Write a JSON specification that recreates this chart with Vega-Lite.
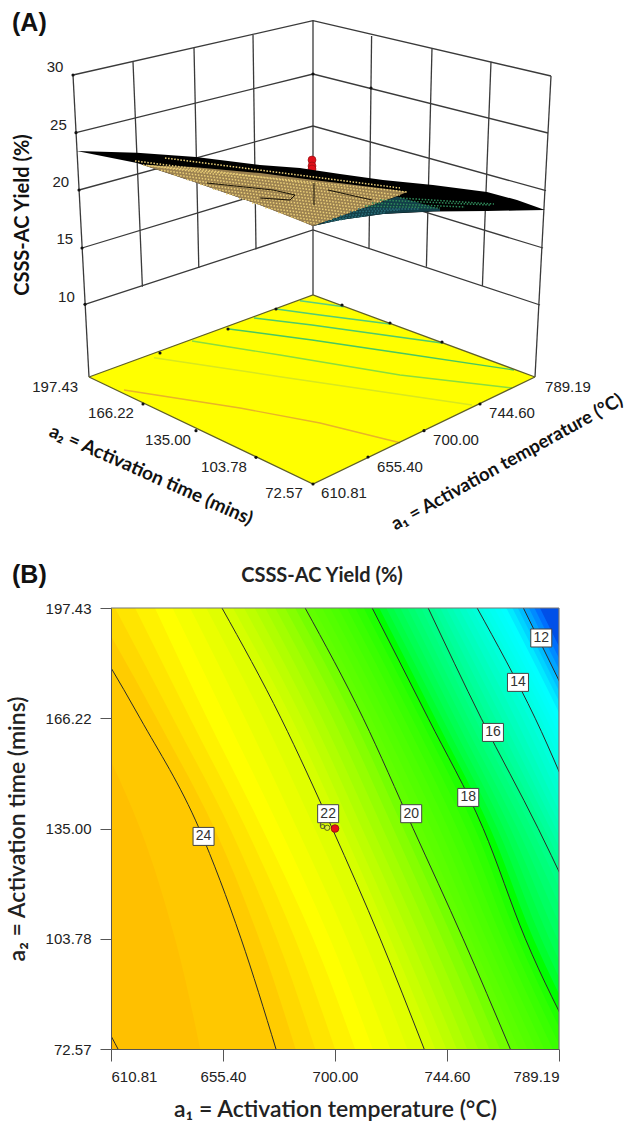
{"$schema":"https://vega.github.io/schema/vega-lite/v6.json","background":"white","padding":{"left":6,"top":0,"right":0,"bottom":0},"bounds":"flush","spacing":0,"config":{"view":{"stroke":null}},
"datasets":{
"walls":[
{"id":"l30","u":73,"v":75},{"id":"l30","u":313,"v":20.7},{"id":"l30","u":551,"v":76},
{"id":"l25","u":76,"v":132.7},{"id":"l25","u":313,"v":74},{"id":"l25","u":548,"v":133},
{"id":"l20","u":79,"v":190},{"id":"l20","u":313,"v":126},{"id":"l20","u":546,"v":190.7},
{"id":"l15","u":82,"v":248},{"id":"l15","u":313,"v":178},{"id":"l15","u":543,"v":248},
{"id":"l10","u":85,"v":304.3},{"id":"l10","u":313,"v":230},{"id":"l10","u":540,"v":305},
{"id":"vL","u":73,"v":75},{"id":"vL","u":89,"v":377},
{"id":"vB","u":313,"v":20.7},{"id":"vB","u":313,"v":295},
{"id":"vR","u":535,"v":377},{"id":"vR","u":551,"v":76},
{"id":"a1","u":133,"v":62},{"id":"a1","u":142.4,"v":286.7},
{"id":"a2","u":194,"v":48},{"id":"a2","u":198.8,"v":268},
{"id":"a3","u":253,"v":35},{"id":"a3","u":256,"v":249.3},
{"id":"b1","u":369,"v":248},{"id":"b1","u":371.6,"v":36},
{"id":"b2","u":426.4,"v":266.7},{"id":"b2","u":432,"v":48.3},
{"id":"b3","u":482.4,"v":286},{"id":"b3","u":491,"v":61.7}],
"dots":[{"u":73,"v":75},{"u":76,"v":132.7},{"u":79,"v":190},{"u":82,"v":248},{"u":85,"v":304.3},{"u":313,"v":74},{"u":371,"v":88},{"u":143,"v":404},{"u":196,"v":430.7},{"u":256,"v":457.3},{"u":480,"v":404},{"u":424,"v":430.7},{"u":368,"v":457},{"u":313,"v":484},{"u":342,"v":305},{"u":390,"v":323},{"u":442,"v":342},{"u":276,"v":309},{"u":228,"v":329},{"u":160,"v":353}],
"floorLines":[
{"id":"f1","u":89,"v":377},{"id":"f1","u":313,"v":295},{"id":"f1","u":535,"v":377},
{"id":"f2","u":89,"v":377},{"id":"f2","u":313,"v":484},{"id":"f2","u":535,"v":377}],
"floorContours":[
{"y":12,"u":300,"v":300.7},{"y":12,"u":344,"v":306.7},
{"y":14,"u":276,"v":309},{"y":14,"u":320,"v":315},{"y":14,"u":390,"v":324},
{"y":16,"u":254,"v":318},{"y":16,"u":312,"v":325},{"y":16,"u":384,"v":335},{"y":16,"u":442,"v":343},
{"y":18,"u":229,"v":329},{"y":18,"u":312,"v":340},{"y":18,"u":400,"v":353},{"y":18,"u":514,"v":370},
{"y":20,"u":192,"v":341},{"y":20,"u":280,"v":355},{"y":20,"u":400,"v":375},{"y":20,"u":512,"v":388},
{"y":22,"u":154,"v":357.7},{"y":22,"u":280,"v":376.7},{"y":22,"u":472,"v":405},
{"y":24,"u":124,"v":390},{"y":24,"u":240,"v":408},{"y":24,"u":320,"v":423},{"y":24,"u":400,"v":442.7}],
"surface":[
{"part":"ridge","u":76.7,"v":151,"v2":151},{"part":"ridge","u":137,"v":152.7,"v2":163},{"part":"ridge","u":196,"v":157,"v2":182.5},{"part":"ridge","u":260,"v":165,"v2":205},{"part":"ridge","u":300,"v":168,"v2":220.5},{"part":"ridge","u":313,"v":170,"v2":226},{"part":"ridge","u":340,"v":174,"v2":220},{"part":"ridge","u":383,"v":180,"v2":214},{"part":"ridge","u":433,"v":185,"v2":211.5},{"part":"ridge","u":487,"v":192,"v2":211},{"part":"ridge","u":517,"v":200,"v2":210.5},{"part":"ridge","u":545,"v":210,"v2":210},
{"part":"tan","u":143,"v":165,"v2":165},{"part":"tan","u":193,"v":167,"v2":181.5},{"part":"tan","u":260,"v":173,"v2":205},{"part":"tan","u":313,"v":180,"v2":226},{"part":"tan","u":343,"v":183.5,"v2":215.5},{"part":"tan","u":395,"v":190,"v2":197},{"part":"tan","u":407,"v":192,"v2":192},
{"part":"teal","u":313,"v":226,"v2":226},{"part":"teal","u":340,"v":216.5,"v2":220},{"part":"teal","u":383,"v":201.5,"v2":214},{"part":"teal","u":397,"v":196.5,"v2":213},{"part":"teal","u":440,"v":209,"v2":211}],
"mesh":[
{"k":"t1","c":"tan","u":165,"v":158},{"k":"t1","c":"tan","u":400,"v":188},
{"k":"t2","c":"tan","u":143,"v":165},{"k":"t2","c":"tan","u":407,"v":192},
{"k":"t3","c":"tan","u":135,"v":160.9},{"k":"t3","c":"tan","u":400,"v":195.3},
{"k":"t4","c":"tan","u":148,"v":165.5},{"k":"t4","c":"tan","u":394,"v":197.5},
{"k":"t5","c":"tan","u":161,"v":170.2},{"k":"t5","c":"tan","u":387,"v":199.6},
{"k":"t6","c":"tan","u":174,"v":174.9},{"k":"t6","c":"tan","u":381,"v":201.8},
{"k":"t7","c":"tan","u":187,"v":179.6},{"k":"t7","c":"tan","u":375,"v":204},
{"k":"t8","c":"tan","u":200,"v":184.3},{"k":"t8","c":"tan","u":369,"v":206.3},
{"k":"t9","c":"tan","u":213,"v":189},{"k":"t9","c":"tan","u":363,"v":208.4},
{"k":"t10","c":"tan","u":226,"v":193.7},{"k":"t10","c":"tan","u":356,"v":210.6},
{"k":"t11","c":"tan","u":239,"v":198.4},{"k":"t11","c":"tan","u":350,"v":212.8},
{"k":"t12","c":"tan","u":252,"v":203},{"k":"t12","c":"tan","u":344,"v":215},
{"k":"t13","c":"tan","u":265,"v":207.8},{"k":"t13","c":"tan","u":338,"v":217.2},
{"k":"t14","c":"tan","u":278,"v":212.5},{"k":"t14","c":"tan","u":332,"v":219.4},
{"k":"t15","c":"tan","u":291,"v":217.1},{"k":"t15","c":"tan","u":325,"v":221.6},
{"k":"t16","c":"tan","u":304,"v":221.8},{"k":"t16","c":"tan","u":319,"v":223.8},
{"k":"g1","c":"teal","u":325,"v":222},{"k":"g1","c":"teal","u":345,"v":219},
{"k":"g2","c":"teal","u":333,"v":219},{"k":"g2","c":"teal","u":365,"v":216},
{"k":"g3","c":"teal","u":340,"v":216},{"k":"g3","c":"teal","u":385,"v":212.5},
{"k":"g4","c":"teal","u":350,"v":212},{"k":"g4","c":"teal","u":400,"v":210},
{"k":"g5","c":"teal","u":358,"v":209},{"k":"g5","c":"teal","u":420,"v":209},
{"k":"g6","c":"green","u":365,"v":206},{"k":"g6","c":"green","u":440,"v":208},
{"k":"g7","c":"green","u":372,"v":203},{"k":"g7","c":"green","u":465,"v":207},
{"k":"g8","c":"green","u":380,"v":200},{"k":"g8","c":"green","u":490,"v":205},
{"k":"g9","c":"green","u":400,"v":198},{"k":"g9","c":"green","u":494,"v":204}],
"surfLines":[
{"id":"s1","u":207,"v":183},{"id":"s1","u":273,"v":190},{"id":"s1","u":295,"v":195},
{"id":"s2","u":260,"v":198},{"id":"s2","u":290,"v":200},{"id":"s2","u":295,"v":195},
{"id":"s3","u":328,"v":190},{"id":"s3","u":372,"v":200},
{"id":"s4","u":314,"v":183},{"id":"s4","u":314,"v":205}],
"tickText":[
{"t":"30","u":55,"v":66.7},{"t":"25","u":58.4,"v":125},{"t":"20","u":60.8,"v":181.7},{"t":"15","u":64.8,"v":239.3},{"t":"10","u":66.4,"v":296.7},
{"t":"197.43","u":55.2,"v":386.7},{"t":"166.22","u":111,"v":413},{"t":"135.00","u":168,"v":440},{"t":"103.78","u":224,"v":466.7},{"t":"72.57","u":284,"v":492.7},
{"t":"610.81","u":344,"v":492.7},{"t":"655.40","u":400,"v":466.7},{"t":"700.00","u":456,"v":440},{"t":"744.60","u":512,"v":413},{"t":"789.19","u":568,"v":386.7}],
"iso":[
{"v":10.5,"b":197.43,"a":805.6},{"v":10.5,"b":166.22,"a":821.6},{"v":10.5,"b":135,"a":845.5},{"v":10.5,"b":103.78,"a":869.4},{"v":10.5,"b":72.57,"a":885.3},
{"v":11,"b":197.43,"a":783.7},{"v":11,"b":166.22,"a":805.6},{"v":11,"b":135,"a":827.6},{"v":11,"b":103.78,"a":851.5},{"v":11,"b":72.57,"a":871.4},
{"v":11.25,"b":197.43,"a":781.6},{"v":11.25,"b":166.22,"a":803.3},{"v":11.25,"b":135,"a":825},{"v":11.25,"b":103.78,"a":848.9},{"v":11.25,"b":72.57,"a":868.8},
{"v":11.5,"b":197.43,"a":779.4},{"v":11.5,"b":166.22,"a":800.9},{"v":11.5,"b":135,"a":822.4},{"v":11.5,"b":103.78,"a":846.3},{"v":11.5,"b":72.57,"a":866.2},
{"v":11.75,"b":197.43,"a":777.2},{"v":11.75,"b":166.22,"a":798.7},{"v":11.75,"b":135,"a":820},{"v":11.75,"b":103.78,"a":843.9},{"v":11.75,"b":72.57,"a":863.8},
{"v":12,"b":197.43,"a":775},{"v":12,"b":166.22,"a":796.5},{"v":12,"b":135,"a":817.6},{"v":12,"b":103.78,"a":841.5},{"v":12,"b":72.57,"a":861.4},
{"v":12.25,"b":197.43,"a":772.8},{"v":12.25,"b":166.22,"a":794.5},{"v":12.25,"b":135,"a":815.4},{"v":12.25,"b":103.78,"a":839.1},{"v":12.25,"b":72.57,"a":859},
{"v":12.5,"b":197.43,"a":770.6},{"v":12.5,"b":166.22,"a":792.5},{"v":12.5,"b":135,"a":813.2},{"v":12.5,"b":103.78,"a":836.7},{"v":12.5,"b":72.57,"a":856.6},
{"v":12.75,"b":197.43,"a":768.2},{"v":12.75,"b":166.22,"a":790.3},{"v":12.75,"b":135,"a":810.8},{"v":12.75,"b":103.78,"a":834.1},{"v":12.75,"b":72.57,"a":854},
{"v":13,"b":197.43,"a":765.8},{"v":13,"b":166.22,"a":788.1},{"v":13,"b":135,"a":808.4},{"v":13,"b":103.78,"a":831.5},{"v":13,"b":72.57,"a":851.5},
{"v":13.25,"b":197.43,"a":763.4},{"v":13.25,"b":166.22,"a":786.1},{"v":13.25,"b":135,"a":806.2},{"v":13.25,"b":103.78,"a":829},{"v":13.25,"b":72.57,"a":848.9},
{"v":13.5,"b":197.43,"a":761},{"v":13.5,"b":166.22,"a":784.1},{"v":13.5,"b":135,"a":804},{"v":13.5,"b":103.78,"a":826.4},{"v":13.5,"b":72.57,"a":846.3},
{"v":13.75,"b":197.43,"a":758.8},{"v":13.75,"b":166.22,"a":781.9},{"v":13.75,"b":135,"a":801.7},{"v":13.75,"b":103.78,"a":824},{"v":13.75,"b":72.57,"a":843.9},
{"v":14,"b":197.43,"a":756.6},{"v":14,"b":166.22,"a":779.7},{"v":14,"b":135,"a":799.3},{"v":14,"b":103.78,"a":821.6},{"v":14,"b":72.57,"a":841.5},
{"v":14.25,"b":197.43,"a":754.3},{"v":14.25,"b":166.22,"a":777.2},{"v":14.25,"b":135,"a":797.1},{"v":14.25,"b":103.78,"a":819.2},{"v":14.25,"b":72.57,"a":839.1},
{"v":14.5,"b":197.43,"a":751.9},{"v":14.5,"b":166.22,"a":774.6},{"v":14.5,"b":135,"a":794.9},{"v":14.5,"b":103.78,"a":816.8},{"v":14.5,"b":72.57,"a":836.7},
{"v":14.75,"b":197.43,"a":749.3},{"v":14.75,"b":166.22,"a":771.8},{"v":14.75,"b":135,"a":792.5},{"v":14.75,"b":103.78,"a":814.2},{"v":14.75,"b":72.57,"a":834.1},
{"v":15,"b":197.43,"a":746.7},{"v":15,"b":166.22,"a":769},{"v":15,"b":135,"a":790.1},{"v":15,"b":103.78,"a":811.6},{"v":15,"b":72.57,"a":831.5},
{"v":15.25,"b":197.43,"a":744.3},{"v":15.25,"b":166.22,"a":766.4},{"v":15.25,"b":135,"a":787.9},{"v":15.25,"b":103.78,"a":809.2},{"v":15.25,"b":72.57,"a":829},
{"v":15.5,"b":197.43,"a":741.9},{"v":15.5,"b":166.22,"a":763.8},{"v":15.5,"b":135,"a":785.7},{"v":15.5,"b":103.78,"a":806.8},{"v":15.5,"b":72.57,"a":826.4},
{"v":15.75,"b":197.43,"a":739.5},{"v":15.75,"b":166.22,"a":761},{"v":15.75,"b":135,"a":783.3},{"v":15.75,"b":103.78,"a":804.3},{"v":15.75,"b":72.57,"a":824},
{"v":16,"b":197.43,"a":737.1},{"v":16,"b":166.22,"a":758.2},{"v":16,"b":135,"a":780.9},{"v":16,"b":103.78,"a":801.7},{"v":16,"b":72.57,"a":821.6},
{"v":16.25,"b":197.43,"a":734.3},{"v":16.25,"b":166.22,"a":755.7},{"v":16.25,"b":135,"a":778.2},{"v":16.25,"b":103.78,"a":798.5},{"v":16.25,"b":72.57,"a":818.6},
{"v":16.5,"b":197.43,"a":731.5},{"v":16.5,"b":166.22,"a":753.1},{"v":16.5,"b":135,"a":775.4},{"v":16.5,"b":103.78,"a":795.3},{"v":16.5,"b":72.57,"a":815.6},
{"v":16.75,"b":197.43,"a":728.8},{"v":16.75,"b":166.22,"a":750.5},{"v":16.75,"b":135,"a":772.6},{"v":16.75,"b":103.78,"a":791.9},{"v":16.75,"b":72.57,"a":812.4},
{"v":17,"b":197.43,"a":726},{"v":17,"b":166.22,"a":747.9},{"v":17,"b":135,"a":769.8},{"v":17,"b":103.78,"a":788.5},{"v":17,"b":72.57,"a":809.2},
{"v":17.25,"b":197.43,"a":723.2},{"v":17.25,"b":166.22,"a":745.3},{"v":17.25,"b":135,"a":767.2},{"v":17.25,"b":103.78,"a":785.3},{"v":17.25,"b":72.57,"a":806.3},
{"v":17.5,"b":197.43,"a":720.4},{"v":17.5,"b":166.22,"a":742.7},{"v":17.5,"b":135,"a":764.6},{"v":17.5,"b":103.78,"a":782.1},{"v":17.5,"b":72.57,"a":803.3},
{"v":17.75,"b":197.43,"a":717.6},{"v":17.75,"b":166.22,"a":739.9},{"v":17.75,"b":135,"a":761.8},{"v":17.75,"b":103.78,"a":779},{"v":17.75,"b":72.57,"a":800.1},
{"v":18,"b":197.43,"a":714.8},{"v":18,"b":166.22,"a":737.1},{"v":18,"b":135,"a":759},{"v":18,"b":103.78,"a":775.8},{"v":18,"b":72.57,"a":796.9},
{"v":18.25,"b":197.43,"a":711.4},{"v":18.25,"b":166.22,"a":733.9},{"v":18.25,"b":135,"a":755.7},{"v":18.25,"b":103.78,"a":772.8},{"v":18.25,"b":72.57,"a":793.5},
{"v":18.5,"b":197.43,"a":708},{"v":18.5,"b":166.22,"a":730.7},{"v":18.5,"b":135,"a":752.3},{"v":18.5,"b":103.78,"a":769.8},{"v":18.5,"b":72.57,"a":790.1},
{"v":18.75,"b":197.43,"a":704.7},{"v":18.75,"b":166.22,"a":727.4},{"v":18.75,"b":135,"a":748.7},{"v":18.75,"b":103.78,"a":766.6},{"v":18.75,"b":72.57,"a":786.7},
{"v":19,"b":197.43,"a":701.3},{"v":19,"b":166.22,"a":724},{"v":19,"b":135,"a":745.1},{"v":19,"b":103.78,"a":763.4},{"v":19,"b":72.57,"a":783.3},
{"v":19.25,"b":197.43,"a":698.1},{"v":19.25,"b":166.22,"a":720.8},{"v":19.25,"b":135,"a":741.7},{"v":19.25,"b":103.78,"a":760.2},{"v":19.25,"b":72.57,"a":780},
{"v":19.5,"b":197.43,"a":694.9},{"v":19.5,"b":166.22,"a":717.6},{"v":19.5,"b":135,"a":738.3},{"v":19.5,"b":103.78,"a":757},{"v":19.5,"b":72.57,"a":776.6},
{"v":19.75,"b":197.43,"a":691.5},{"v":19.75,"b":166.22,"a":714.4},{"v":19.75,"b":135,"a":734.7},{"v":19.75,"b":103.78,"a":754},{"v":19.75,"b":72.57,"a":773.2},
{"v":20,"b":197.43,"a":688.1},{"v":20,"b":166.22,"a":711.2},{"v":20,"b":135,"a":731.1},{"v":20,"b":103.78,"a":751},{"v":20,"b":72.57,"a":769.8},
{"v":20.25,"b":197.43,"a":684.1},{"v":20.25,"b":166.22,"a":707.2},{"v":20.25,"b":135,"a":727.2},{"v":20.25,"b":103.78,"a":746.9},{"v":20.25,"b":72.57,"a":765.6},
{"v":20.5,"b":197.43,"a":680.1},{"v":20.5,"b":166.22,"a":703.2},{"v":20.5,"b":135,"a":723.2},{"v":20.5,"b":103.78,"a":742.7},{"v":20.5,"b":72.57,"a":761.4},
{"v":20.75,"b":197.43,"a":676.2},{"v":20.75,"b":166.22,"a":699.1},{"v":20.75,"b":135,"a":719},{"v":20.75,"b":103.78,"a":738.5},{"v":20.75,"b":72.57,"a":757},
{"v":21,"b":197.43,"a":672.2},{"v":21,"b":166.22,"a":694.9},{"v":21,"b":135,"a":714.8},{"v":21,"b":103.78,"a":734.3},{"v":21,"b":72.57,"a":752.6},
{"v":21.25,"b":197.43,"a":668},{"v":21.25,"b":166.22,"a":690.9},{"v":21.25,"b":135,"a":710.8},{"v":21.25,"b":103.78,"a":730.2},{"v":21.25,"b":72.57,"a":748.5},
{"v":21.5,"b":197.43,"a":663.8},{"v":21.5,"b":166.22,"a":686.9},{"v":21.5,"b":135,"a":706.8},{"v":21.5,"b":103.78,"a":726},{"v":21.5,"b":72.57,"a":744.3},
{"v":21.75,"b":197.43,"a":659.4},{"v":21.75,"b":166.22,"a":682.7},{"v":21.75,"b":135,"a":702.9},{"v":21.75,"b":103.78,"a":722},{"v":21.75,"b":72.57,"a":739.9},
{"v":22,"b":197.43,"a":655},{"v":22,"b":166.22,"a":678.5},{"v":22,"b":135,"a":698.9},{"v":22,"b":103.78,"a":718},{"v":22,"b":72.57,"a":735.5},
{"v":22.25,"b":197.43,"a":648.7},{"v":22.25,"b":166.22,"a":671.4},{"v":22.25,"b":135,"a":691.9},{"v":22.25,"b":103.78,"a":711.4},{"v":22.25,"b":72.57,"a":728.8},
{"v":22.5,"b":197.43,"a":642.3},{"v":22.5,"b":166.22,"a":664.2},{"v":22.5,"b":135,"a":684.9},{"v":22.5,"b":103.78,"a":704.8},{"v":22.5,"b":72.57,"a":722},
{"v":22.75,"b":197.43,"a":635.3},{"v":22.75,"b":166.22,"a":656.7},{"v":22.75,"b":135,"a":678},{"v":22.75,"b":103.78,"a":698},{"v":22.75,"b":72.57,"a":715},
{"v":23,"b":197.43,"a":628.3},{"v":23,"b":166.22,"a":649.1},{"v":23,"b":135,"a":671},{"v":23,"b":103.78,"a":691.3},{"v":23,"b":72.57,"a":708},
{"v":23.25,"b":197.43,"a":620.4},{"v":23.25,"b":166.22,"a":642.3},{"v":23.25,"b":135,"a":664.6},{"v":23.25,"b":103.78,"a":684.1},{"v":23.25,"b":72.57,"a":700},
{"v":23.5,"b":197.43,"a":612.4},{"v":23.5,"b":166.22,"a":635.5},{"v":23.5,"b":135,"a":658.2},{"v":23.5,"b":103.78,"a":676.9},{"v":23.5,"b":72.57,"a":692.1},
{"v":23.75,"b":197.43,"a":604.5},{"v":23.75,"b":166.22,"a":629},{"v":23.75,"b":135,"a":652},{"v":23.75,"b":103.78,"a":669.8},{"v":23.75,"b":72.57,"a":684.3},
{"v":24,"b":197.43,"a":596.5},{"v":24,"b":166.22,"a":622.4},{"v":24,"b":135,"a":645.9},{"v":24,"b":103.78,"a":662.6},{"v":24,"b":72.57,"a":676.5},
{"v":24.5,"b":197.43,"a":578.5},{"v":24.5,"b":166.22,"a":602.4},{"v":24.5,"b":135,"a":622.4},{"v":24.5,"b":103.78,"a":636.3},{"v":24.5,"b":72.57,"a":646.3},
{"v":25,"b":197.43,"a":554.6},{"v":25,"b":166.22,"a":570.6},{"v":25,"b":135,"a":582.5},{"v":25,"b":103.78,"a":594.5},{"v":25,"b":72.57,"a":613.6}],
"labels":[
{"t":"24","a":647.66,"b":132.76},{"t":"22","a":697.27,"b":139.19},{"t":"20","a":730.34,"b":139.19},{"t":"18","a":753.05,"b":143.8},{"t":"16","a":762.89,"b":162.2},{"t":"14","a":772.85,"b":176.37},{"t":"12","a":782.13,"b":188.94}]
},
"vconcat":[
{"width":517,"height":608,
"resolve":{"scale":{"color":"independent"}},
"layer":[
{"data":{"name":"walls"},"mark":{"type":"line","color":"#3a3a3a","strokeWidth":1.3},"encoding":{"x":{"field":"u","type":"quantitative","scale":{"domain":[111,628],"nice":false},"axis":null},"y":{"field":"v","type":"quantitative","scale":{"domain":[0,608],"reverse":true,"nice":false},"axis":null},"detail":{"field":"id"}}},
{"data":{"values":[{"u":312,"v":160,"s":"big"},{"u":312,"v":166,"s":"small"},{"u":312,"v":169,"s":"small"}]},"mark":{"type":"point","filled":true,"color":"#e0101a","stroke":"#8a1010","strokeWidth":0.6,"size":64,"opacity":1},"encoding":{"x":{"field":"u","type":"quantitative"},"y":{"field":"v","type":"quantitative"}}},
{"data":{"values":[{"part":"floor","u":89,"v":377,"v2":377},{"part":"floor","u":313,"v":295,"v2":484},{"part":"floor","u":535,"v":377,"v2":377}]},"mark":{"type":"area","orient":"vertical","color":"#ffff00"},"encoding":{"x":{"field":"u","type":"quantitative"},"y":{"field":"v","type":"quantitative"},"y2":{"field":"v2"}}},
{"data":{"name":"floorContours"},"mark":{"type":"line","strokeWidth":1.4},"encoding":{"x":{"field":"u","type":"quantitative"},"y":{"field":"v","type":"quantitative"},"detail":{"field":"y"},"color":{"field":"y","type":"quantitative","scale":{"domain":[12,18,20,22,24],"range":["#58d080","#48c860","#8ade3c","#d8e81e","#e8b428"]},"legend":null}}},
{"data":{"name":"floorLines"},"mark":{"type":"line","color":"#5f5f28","strokeWidth":1.3},"encoding":{"x":{"field":"u","type":"quantitative"},"y":{"field":"v","type":"quantitative"},"detail":{"field":"id"}}},
{"data":{"name":"dots"},"mark":{"type":"point","filled":true,"color":"#111111","size":10,"opacity":1},"encoding":{"x":{"field":"u","type":"quantitative"},"y":{"field":"v","type":"quantitative"}}},
{"data":{"name":"surface"},"mark":{"type":"area","orient":"vertical"},"encoding":{"x":{"field":"u","type":"quantitative"},"y":{"field":"v","type":"quantitative"},"y2":{"field":"v2"},"detail":{"field":"part"},"color":{"field":"part","type":"nominal","sort":null,"scale":{"domain":["ridge","tan","teal"],"range":["#000000","#9c8250","#123f48"]},"legend":null}}},
{"data":{"name":"mesh"},"mark":{"type":"line","strokeWidth":1.5,"strokeDash":[1.5,1.6]},"encoding":{"x":{"field":"u","type":"quantitative"},"y":{"field":"v","type":"quantitative"},"detail":{"field":"k"},"color":{"field":"c","type":"nominal","scale":{"domain":["tan","teal","green"],"range":["#ecd078","#2a6f7a","#2f8a5a"]},"legend":null}}},
{"data":{"name":"surfLines"},"mark":{"type":"line","color":"#1a1408","strokeWidth":1},"encoding":{"x":{"field":"u","type":"quantitative"},"y":{"field":"v","type":"quantitative"},"detail":{"field":"id"}}},
{"data":{"name":"tickText"},"mark":{"type":"text","font":"Liberation Sans","fontSize":15,"color":"#222222","align":"center","baseline":"middle"},"encoding":{"x":{"field":"u","type":"quantitative"},"y":{"field":"v","type":"quantitative"},"text":{"field":"t"}}},
{"data":{"values":[{"t":"(A)","u":12,"v":23},{"t":"(B)","u":12,"v":575}]},"mark":{"type":"text","font":"Liberation Sans","fontWeight":"bold","fontSize":25,"color":"#111111","align":"left","baseline":"middle"},"encoding":{"x":{"field":"u","type":"quantitative"},"y":{"field":"v","type":"quantitative"},"text":{"field":"t"}}},
{"data":{"values":[{"t":"CSSS-AC Yield (%)","u":23,"v":215}]},"mark":{"type":"text","font":"Lato","fontWeight":"bold","fontSize":20,"color":"#111111","align":"center","baseline":"middle","angle":270},"encoding":{"x":{"field":"u","type":"quantitative"},"y":{"field":"v","type":"quantitative"},"text":{"field":"t"}}},
{"data":{"values":[{"t":"a₂ = Activation time (mins)","u":151,"v":475}]},"mark":{"type":"text","font":"Lato","fontWeight":"bold","fontSize":19,"color":"#111111","align":"center","baseline":"middle","angle":24},"encoding":{"x":{"field":"u","type":"quantitative"},"y":{"field":"v","type":"quantitative"},"text":{"field":"t"}}},
{"data":{"values":[{"t":"a₁ = Activation temperature (°C)","u":507,"v":462}]},"mark":{"type":"text","font":"Lato","fontWeight":"bold","fontSize":18.5,"color":"#111111","align":"center","baseline":"middle","angle":331},"encoding":{"x":{"field":"u","type":"quantitative"},"y":{"field":"v","type":"quantitative"},"text":{"field":"t"}}}
]},
{"width":448,"height":441,
"title":{"text":"CSSS-AC Yield (%)","font":"Lato","fontWeight":"bold","fontSize":20,"color":"#222222","anchor":"middle","dx":-13,"offset":15},
"layer":[
{"data":{"name":"iso"},"mark":{"type":"area","orient":"horizontal","clip":true,"interpolate":"monotone"},"encoding":{
"x":{"field":"a","type":"quantitative","stack":null,"scale":{"domain":[610.81,789.19],"nice":false,"zero":false},
"axis":{"values":[610.81,655.4,700,744.6,789.19],"format":".2f","grid":false,"zindex":1,"title":"a₁ = Activation temperature (°C)","titleFont":"Lato","titleFontWeight":600,"titleFontSize":23,"titleColor":"#222222","titlePadding":14,"labelFont":"Liberation Sans","labelFontSize":15,"labelColor":"#222222","labelPadding":8,"tickSize":12,"tickColor":"#555555","domainColor":"#555555","labelOverlap":false}},
"x2":{"datum":610.81},
"y":{"field":"b","type":"quantitative","scale":{"domain":[72.57,197.43],"nice":false,"zero":false},
"axis":{"values":[72.57,103.78,135,166.22,197.43],"format":".2f","grid":false,"zindex":1,"title":"a₂ = Activation time (mins)","titleFont":"Lato","titleFontWeight":600,"titleFontSize":23,"titleColor":"#222222","titlePadding":16,"labelFont":"Liberation Sans","labelFontSize":15,"labelColor":"#222222","labelPadding":9,"tickSize":11,"tickColor":"#555555","domainColor":"#555555","labelOverlap":false}},
"detail":{"field":"v"},
"color":{"field":"v","type":"quantitative","scale":{"domain":[11,12.75,15.75,17.75,19.75,22.75,23.75,25],"range":["#0050e8","#00ffff","#00ff90","#00ff00","#60ff00","#ffff00","#ffcc00","#ffb800"],"clamp":true},"legend":null}}},
{"data":{"name":"iso"},"transform":[{"filter":"datum.v==25||datum.v==24||datum.v==22||datum.v==20||datum.v==18||datum.v==16||datum.v==14||datum.v==12"}],"mark":{"type":"line","clip":true,"color":"#2b2b2b","strokeWidth":1,"interpolate":"monotone"},"encoding":{"x":{"field":"a","type":"quantitative"},"y":{"field":"b","type":"quantitative"},"detail":{"field":"v"}}},
{"data":{"values":[{"frame":"top"}]},"mark":{"type":"rule","color":"#777777","strokeWidth":1.2},"encoding":{"y":{"datum":197.43}}},
{"data":{"values":[{"frame":"right"}]},"mark":{"type":"rule","color":"#777777","strokeWidth":1.2},"encoding":{"x":{"datum":789.19}}},
{"data":{"values":[{"a":696.9,"b":135.2}]},"mark":{"type":"point","color":"#5c6b10","fill":"#e0f040","filled":false,"size":28,"strokeWidth":1,"opacity":1},"encoding":{"x":{"field":"a","type":"quantitative"},"y":{"field":"b","type":"quantitative"}}},
{"data":{"values":[{"t":"6","a":694.9,"b":135.6}]},"mark":{"type":"text","font":"Liberation Sans","fontSize":11,"color":"#444444"},"encoding":{"x":{"field":"a","type":"quantitative"},"y":{"field":"b","type":"quantitative"},"text":{"field":"t"}}},
{"data":{"name":"labels"},"mark":{"type":"point","shape":"M-1,-0.857H1V0.857H-1Z","filled":true,"fill":"white","stroke":"#444444","strokeWidth":1,"size":441,"opacity":1},"encoding":{"x":{"field":"a","type":"quantitative"},"y":{"field":"b","type":"quantitative"}}},
{"data":{"name":"labels"},"mark":{"type":"text","font":"Liberation Sans","fontSize":14,"color":"#333333","align":"center","baseline":"middle"},"encoding":{"x":{"field":"a","type":"quantitative"},"y":{"field":"b","type":"quantitative"},"text":{"field":"t"}}},
{"data":{"values":[{"a":700,"b":135}]},"mark":{"type":"point","filled":true,"color":"#e8101a","stroke":"#7a1010","strokeWidth":0.7,"size":60,"opacity":1},"encoding":{"x":{"field":"a","type":"quantitative"},"y":{"field":"b","type":"quantitative"}}}
]}
]}
